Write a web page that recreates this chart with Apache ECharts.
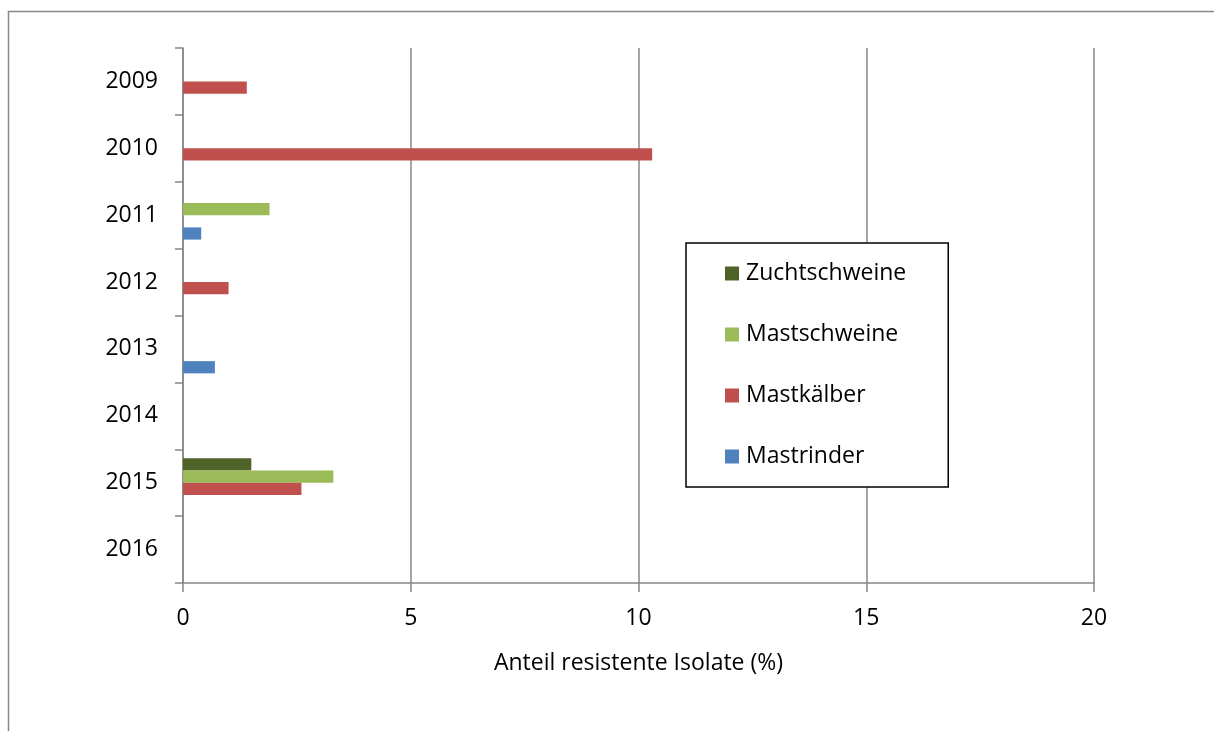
<!DOCTYPE html>
<html>
<head>
<meta charset="utf-8">
<script src="https://cdn.jsdelivr.net/npm/echarts@6/dist/echarts.min.js"></script>
<style>
  html, body { margin: 0; padding: 0; background: #fff; }
  #chart { width: 1214px; height: 731px; }
</style>
</head>
<body>
<div id="chart"></div>
<script>
  // categories, top to bottom
  const years = ['2009', '2010', '2011', '2012', '2013', '2014', '2015', '2016'];

  // Anteil resistente Isolate (%) per year
  const zuchtschweine = [null, null, null, null, null, null, 1.5, null];
  const mastschweine  = [null, null, 1.9, null, null, null, 3.3, null];
  const mastkaelber   = [1.4, 10.3, null, 1.0, null, null, 2.6, null];
  const mastrinder    = [null, null, 0.4, null, 0.7, null, null, null];

  const xTicks = [0, 5, 10, 15, 20];

  const grey = '#878787';
  const font = '"Open Sans", sans-serif';

  const chart = echarts.init(document.getElementById('chart'));

  function bar(name, data, color) {
    return {
      name: name,
      type: 'bar',
      data: data,
      barGap: '0%',
      barCategoryGap: '27%',
      itemStyle: { color: color },
      animation: false
    };
  }

  chart.setOption({
    backgroundColor: '#fff',
    graphic: [{
      type: 'rect',
      shape: { x: 8.5, y: 11.5, width: 1300, height: 900 },
      style: { fill: 'none', stroke: grey, lineWidth: 1.5 },
      silent: true
    }],
    grid: { left: 183, top: 48, right: 120, bottom: 148 },
    legend: {
      orient: 'vertical',
      left: 686,
      top: 243,
      data: ['Zuchtschweine', 'Mastschweine', 'Mastkälber', 'Mastrinder'],
      icon: 'rect',
      itemWidth: 14,
      itemHeight: 14,
      itemGap: 38,
      padding: [19, 42, 19, 39],
      borderColor: '#000',
      borderWidth: 1.5,
      backgroundColor: '#fff',
      textStyle: { fontFamily: font, fontSize: 23, color: '#000', padding: [0, 0, 0, 2] }
    },
    xAxis: {
      type: 'value',
      min: xTicks[0],
      max: xTicks[xTicks.length - 1],
      interval: 5,
      name: 'Anteil resistente Isolate (%)',
      nameLocation: 'middle',
      nameGap: 69,
      nameTextStyle: { fontFamily: font, fontSize: 23, color: '#000' },
      axisLine: { show: true, lineStyle: { color: grey, width: 1.5 } },
      axisTick: { show: true, length: 9, lineStyle: { color: grey, width: 1.5 } },
      axisLabel: { fontFamily: font, fontSize: 23, color: '#000', margin: 24 },
      splitLine: { show: true, lineStyle: { color: grey, width: 1.5 } }
    },
    yAxis: {
      type: 'category',
      data: years,
      inverse: true,
      axisLine: { show: true, lineStyle: { color: grey, width: 1.5 } },
      axisTick: { show: true, length: 8, lineStyle: { color: grey, width: 1.5 } },
      axisLabel: { fontFamily: font, fontSize: 23, color: '#000', margin: 25 },
      splitLine: { show: false }
    },
    series: [
      bar('Zuchtschweine', zuchtschweine, '#4F6228'),
      bar('Mastschweine', mastschweine, '#9BBB59'),
      bar('Mastkälber', mastkaelber, '#C0504D'),
      bar('Mastrinder', mastrinder, '#4F81BD')
    ]
  });
</script>
</body>
</html>
